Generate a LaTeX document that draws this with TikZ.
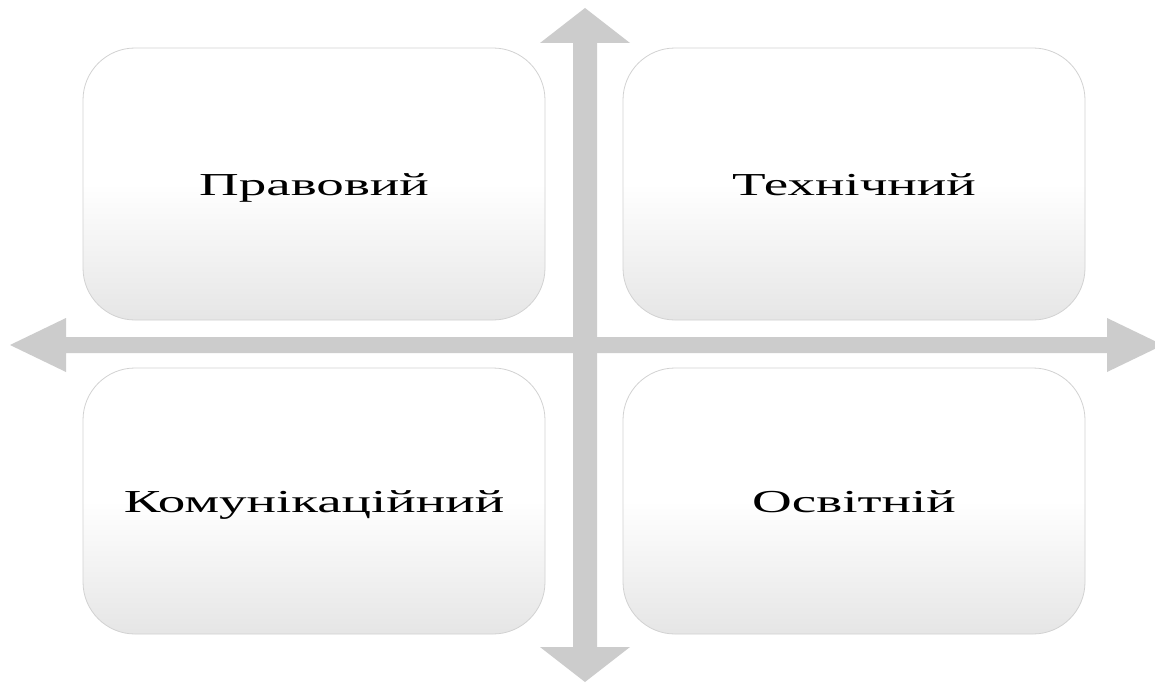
\documentclass[tikz,border=0pt]{standalone}
\usepackage{fontspec}
\setmainfont{Liberation Serif}
\begin{document}
\begin{tikzpicture}[x=1pt,y=-1pt,
  quad/.style={rectangle, rounded corners=52pt, minimum width=462pt, draw=gray!35, line width=0.8pt,
    top color=white, bottom color=gray!20, middle color=white, inner sep=0pt},
  lbl/.style={anchor=base, font=\fontsize{32}{38}\selectfont, inner sep=0pt},
  arr/.style={fill=gray!40, draw=none}]
\useasboundingbox (0,0) rectangle (1155,682);
\clip (0,0) rectangle (1155,682);
\fill[white] (0,0) rectangle (1155,682);
% cross arrows
\fill[arr] (573,43) -- (540,43) -- (585,8) -- (630,43) -- (597,43) -- (597,647) -- (630,647)
  -- (585,682) -- (540,647) -- (573,647) -- cycle;
\fill[arr] (66,337) -- (66,318) -- (10,345) -- (66,372) -- (66,353) -- (1107,353) -- (1107,372)
  -- (1163,345) -- (1107,318) -- (1107,337) -- cycle;
% boxes
\node[quad, minimum height=272pt] (pr) at (314,184) {};
\node[quad, minimum height=272pt] (te) at (854,184) {};
\node[quad, minimum height=266pt] (ko) at (314,501) {};
\node[quad, minimum height=266pt] (os) at (854,501) {};
% labels
\node[lbl] (lpr) at ([yshift=-11pt]pr.center) {\scalebox{1.72}[1]{Правовий}};
\node[lbl] (lte) at ([yshift=-11pt]te.center) {\scalebox{1.72}[1]{Технічний}};
\node[lbl] (lko) at ([yshift=-11pt]ko.center) {\scalebox{1.72}[1]{Комунікаційний}};
\node[lbl] (los) at ([yshift=-11pt]os.center) {\scalebox{1.72}[1]{Освітній}};
\end{tikzpicture}
\end{document}
